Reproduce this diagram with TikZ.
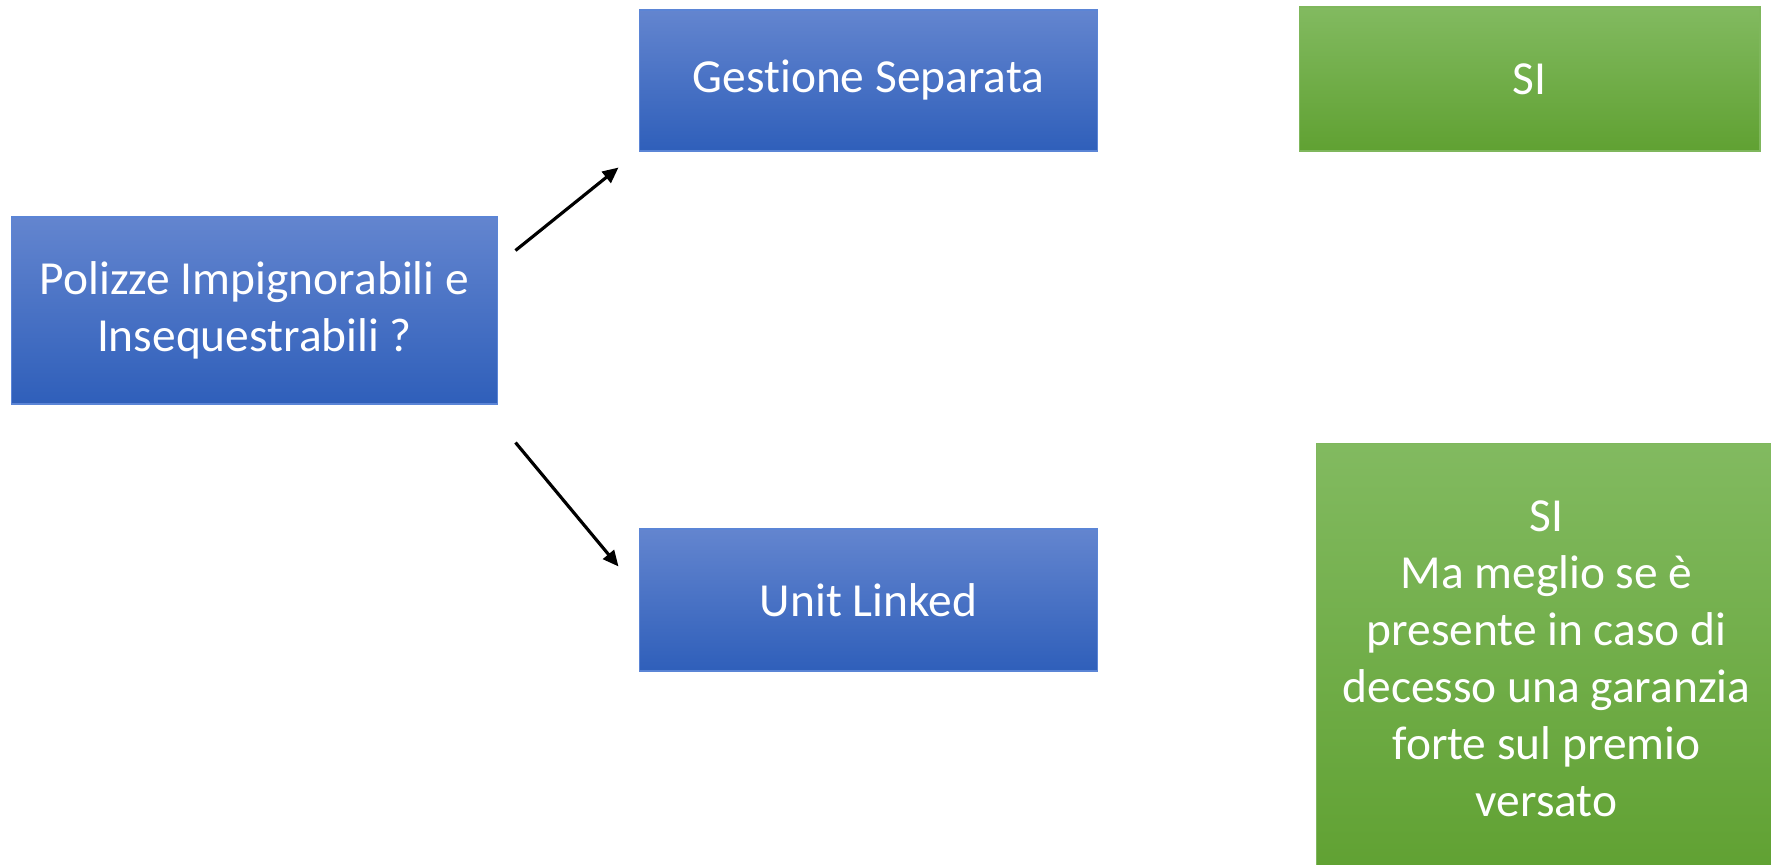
\documentclass[tikz,border=0pt]{standalone}
\usepackage{fontspec}
\setmainfont{Carlito}[Ligatures=NoCommon]
\definecolor{box-blue-top}{HTML}{6385CF}
\definecolor{box-blue-bot}{HTML}{2F5FBA}
\definecolor{box-blue-line}{HTML}{5B85D6}
\definecolor{box-green-top}{HTML}{82BA60}
\definecolor{box-green-bot}{HTML}{60A132}
\definecolor{box-green-line}{HTML}{7FB75C}
\usetikzlibrary{arrows.meta,calc}

\begin{document}
\begin{tikzpicture}[
    x=0.02cm, y=-0.02cm,
    font=\fontsize{27}{32.4}\selectfont,
    box/.style={line width=0.6pt, text=white, align=center, inner sep=0pt},
    question/.style={box, draw=box-blue-line, top color=box-blue-top, bottom color=box-blue-bot},
    answer/.style={box, draw=box-green-line, top color=box-green-top, bottom color=box-green-bot},
    flow/.style={-{Triangle[length=9pt, width=8pt]}, draw=black, line width=1.8pt},
]
\clip (0,0) rectangle (1771,865);

\node[question, minimum width=9.74cm, minimum height=3.74cm] (poliz) at (254.5,310.5)
    {Polizze Impignorabili e\\Insequestrabili ?};
\node[question, minimum width=9.18cm, minimum height=2.82cm] (gest) at (868.5,80.5)
    {Gestione Separata};
\node[question, minimum width=9.18cm, minimum height=2.84cm] (unit) at (868.5,600)
    {Unit Linked};

\node[answer, minimum width=9.22cm, minimum height=2.88cm] (gestsi) at (1529.5,79) {SI};
\node[answer, minimum width=9.22cm, minimum height=8.64cm] (unitsi) at (1546.5,659)
    {SI\\Ma meglio se è\\presente in caso di\\decesso una garanzia\\forte sul premio\\versato};

% arrow ends sit a little off the boxes
\coordinate (upfrom) at ($(poliz.north east)+(17,34)$);
\coordinate (upto) at ($(gest.south west)+(-20,16)$);
\coordinate (downfrom) at ($(poliz.south east)+(17,38)$);
\coordinate (downto) at ($(unit.north west)+(-20,38)$);
\draw[flow] (upfrom) -- (upto);
\draw[flow] (downfrom) -- (downto);
\end{tikzpicture}
\end{document}
